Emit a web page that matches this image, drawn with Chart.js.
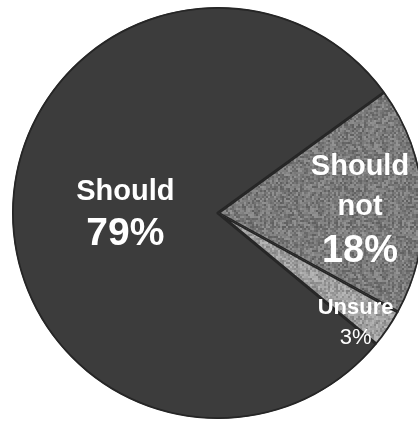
<!DOCTYPE html>
<html>
<head>
<meta charset="utf-8">
<script src="https://cdn.jsdelivr.net/npm/chart.js@4"></script>
<style>
    html, body { margin: 0; padding: 0; background: #fff; overflow: hidden; }
    #pieWrap { width: 418px; height: 421px; overflow: hidden; }
    canvas { display: block; }
</style>
</head>
<body>
<div id="pieWrap"><canvas id="opinionPie" width="424" height="421"></canvas></div>
<script>
// Survey answers, clockwise from the upper edge of the "Should not" wedge
const answers = ['Should not', 'Unsure', 'Should'];
const percents = [18, 3, 79];

// Fill tones for each wedge
const baseTones = ['#7a7a7a', '#9e9e9e', '#3c3c3c'];

// Speckled fill like a printed halftone, built from a fixed hash so it is the same every run
function grainPattern(ctx, hex, amount) {
    const size = 64;
    const cell = 2;
    const tile = document.createElement('canvas');
    tile.width = size;
    tile.height = size;
    const tctx = tile.getContext('2d');
    const base = parseInt(hex.slice(1, 3), 16);
    const img = tctx.createImageData(size, size);
    for (let y = 0; y < size; y++) {
        for (let x = 0; x < size; x++) {
            const gx = Math.floor(x / cell), gy = Math.floor(y / cell);
            let h = (gx * 374761393 + gy * 668265263) | 0;
            h = Math.imul(h ^ (h >>> 13), 1274126177);
            h = (h ^ (h >>> 16)) & 255;
            const v = Math.max(0, Math.min(255, base + Math.round((h / 255 - 0.5) * amount)));
            const i = (y * size + x) * 4;
            img.data[i] = v;
            img.data[i + 1] = v;
            img.data[i + 2] = v;
            img.data[i + 3] = 255;
        }
    }
    tctx.putImageData(img, 0, 0);
    return ctx.createPattern(tile, 'repeat');
}

// How each wedge's caption is laid out: distance from centre (fraction of radius),
// angular nudge in degrees, and the lines with their font settings
const captionLayout = [
    { radius: 0.69, nudge: 1, gap: [40, 44], lines: [
        { size: 29, weight: 'bold' }, { size: 29, weight: 'bold' }, { size: 38, weight: 'bold' }] },
    { radius: 0.85, nudge: 4, gap: [30], lines: [
        { size: 22, weight: 'bold' }, { size: 22, weight: 'normal' }] },
    { radius: 0.45, nudge: 0, gap: [42], lines: [
        { size: 29, weight: 'bold' }, { size: 39, weight: 'bold' }] }
];

const sliceCaptions = {
    id: 'sliceCaptions',
    afterDatasetsDraw(chart) {
        const { ctx } = chart;
        const meta = chart.getDatasetMeta(0);
        meta.data.forEach((arc, i) => {
            const p = arc.getProps(['x', 'y', 'startAngle', 'endAngle', 'outerRadius'], true);
            const layout = captionLayout[i];
            const mid = (p.startAngle + p.endAngle) / 2 + layout.nudge * Math.PI / 180;
            const cx = p.x + Math.cos(mid) * p.outerRadius * layout.radius;
            const cy = p.y + Math.sin(mid) * p.outerRadius * layout.radius;

            const texts = answers[i].split(' ');
            texts.push(percents[i] + '%');
            const total = layout.gap.reduce((a, b) => a + b, 0);
            let y = cy - total / 2;

            ctx.save();
            ctx.fillStyle = '#ffffff';
            ctx.textAlign = 'center';
            ctx.textBaseline = 'alphabetic';
            texts.forEach((t, j) => {
                const f = layout.lines[j];
                ctx.font = `${f.weight} ${f.size}px "Liberation Sans", Arial, sans-serif`;
                // baseline sits about a third of the font size below the line's centre
                ctx.fillText(t, cx, y + f.size * 0.36);
                if (j < layout.gap.length) y += layout.gap[j];
            });
            ctx.restore();
        });
    }
};

const pieCtx = document.getElementById('opinionPie').getContext('2d');
const fills = [
    grainPattern(pieCtx, baseTones[0], 55),
    grainPattern(pieCtx, baseTones[1], 55),
    baseTones[2]
];

const opinionPie = new Chart(pieCtx, {
    type: 'pie',
    data: {
        labels: answers,
        datasets: [{
            data: percents,
            backgroundColor: fills,
            borderColor: '#262626',
            borderWidth: 1.5,
            borderAlign: 'inner'
        }]
    },
    options: {
        responsive: false,
        animation: false,
        rotation: 54,
        layout: { padding: { left: 12, right: 0, top: 7, bottom: 2 } },
        plugins: {
            legend: { display: false },
            tooltip: { enabled: false }
        }
    },
    plugins: [sliceCaptions]
});
</script>
</body>
</html>
